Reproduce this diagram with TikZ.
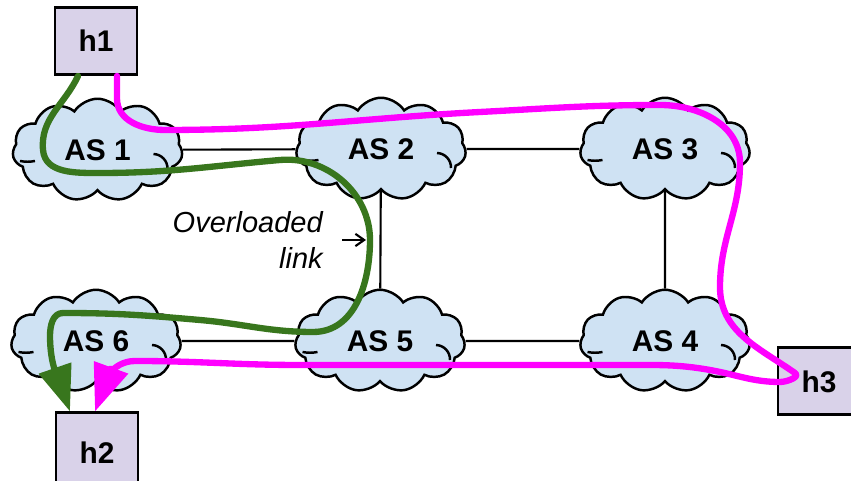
\documentclass[tikz,border=0pt]{standalone}
\usepackage{fontspec}
\setmainfont{Liberation Sans}
\usetikzlibrary{shapes.symbols,arrows.meta}

\definecolor{cloudblue}{HTML}{CFE2F3}
\definecolor{hostlilac}{HTML}{D9D2E9}
\definecolor{pathgreen}{HTML}{38761D}
\definecolor{pathpink}{HTML}{FF00FF}

\begin{document}
\begin{tikzpicture}[
	as/.style={cloud, cloud puffs=11, cloud puff arc=115, cloud ignores aspect,
		minimum width=3.4cm, minimum height=2.05cm, inner sep=0pt,
		draw=black, line width=1.4pt, fill=cloudblue,
		font=\fontsize{17}{20}\selectfont\bfseries},
	host/.style={rectangle, draw=black, line width=1.7pt, fill=hostlilac,
		minimum width=1.64cm, minimum height=1.34cm,
		font=\fontsize{17}{20}\selectfont\bfseries},
	link/.style={line width=1.2pt, black},
	curl/.style={line width=1.4pt, black},
	route/.style={line width=3.6pt, line cap=round, line join=round},
	]
	\useasboundingbox (0,0) rectangle (17.02,9.62);
	\clip (0,0) rectangle (17.02,9.62);
	
	% hosts
	\node[host] (h1) at (1.92,8.80) {h1};
	\node[host, minimum height=1.6cm] (h2) at (1.94,0.56) {h2};
	\node[host] (h3) at (16.38,1.99) {h3};
	
	% autonomous systems
	\node[as] (as1) at (1.95,6.62) {AS 1};
	\node[as] (as2) at (7.62,6.64) {AS 2};
	\node[as] (as3) at (13.30,6.64) {AS 3};
	
	\node[as] (as6) at (1.92,2.80) {AS 6};
	\node[as] (as5) at (7.60,2.80) {AS 5};
	\node[as] (as4) at (13.30,2.80) {AS 4};
	
	\foreach \c in {as1,as2,as3,as4,as5,as6}{
		\draw[curl] ([shift={(1.12,-0.08)}]\c.center) to[bend left=45] ([shift={(1.40,-0.38)}]\c.center);
		\draw[curl] ([shift={(-1.55,-0.22)}]\c.center) to[bend right=10] ([shift={(-1.25,-0.22)}]\c.center);
	}
	
	% links
	\draw[link] (as1) -- (as2);
	\draw[link] (as2) -- (as3);
	\draw[link] (as6) -- (as5);
	\draw[link] (as5) -- (as4);
	\draw[link] (as2) -- (as5);
	\draw[link] (as3) -- (as4);
	
	% overloaded link note
	\node[font=\fontsize{16.5}{20.5}\selectfont\itshape, align=right, anchor=east, inner sep=0pt] (note) at (6.46,4.82) {Overloaded\\link};
	\coordinate (hot) at (7.32,4.82);
	\draw[link, -{Straight Barb[length=5pt, width=7pt]}] ([xshift=0.38cm]note.east) -- (hot);
	
	% routes
	\coordinate (g0) at ([xshift=-0.36cm]h1.south);
	\coordinate (g1) at ([xshift=-0.54cm]h2.north);
	\coordinate (m0) at ([xshift=0.42cm]h1.south);
	\coordinate (m1) at ([xshift=-0.04cm]h2.north);
	
	\draw[route, pathgreen, -{Triangle[length=0.92cm, width=0.66cm]}] (g0)
		to[out=-115,in=95] (0.86,6.62) to[out=-85,in=180] (2.0,6.16)
		to[out=0,in=185] (5.6,6.42) to[out=5,in=90] (7.4,4.82)
		to[out=-90,in=0] (6.26,2.98) to[out=180,in=-5] (4.0,3.22)
		to[out=175,in=0] (1.26,3.36) to[out=180,in=90] (1.0,2.9)
		to[out=-90,in=109] (g1);
	
	\draw[route, pathpink, -{Triangle[length=0.94cm, width=0.7cm]}] (m0)
		-- (2.34,7.65) to[out=-90,in=180] (3.3,7.02)
		to[out=0,in=183] (9.6,7.38) to[out=3,in=180] (13.2,7.52)
		to[out=0,in=90] (14.8,6.36) to[out=-90,in=90] (14.4,3.88)
		to[out=-90,in=145] (15.9,2.16) to[out=-35,in=0] (15.6,1.98)
		to[out=180,in=-10] (14.2,2.22) to[out=170,in=0] (12.5,2.32)
		-- (6.0,2.32) to[out=180,in=0] (2.7,2.40)
		to[out=180,in=70] (m1);
	
\end{tikzpicture}
\end{document}
